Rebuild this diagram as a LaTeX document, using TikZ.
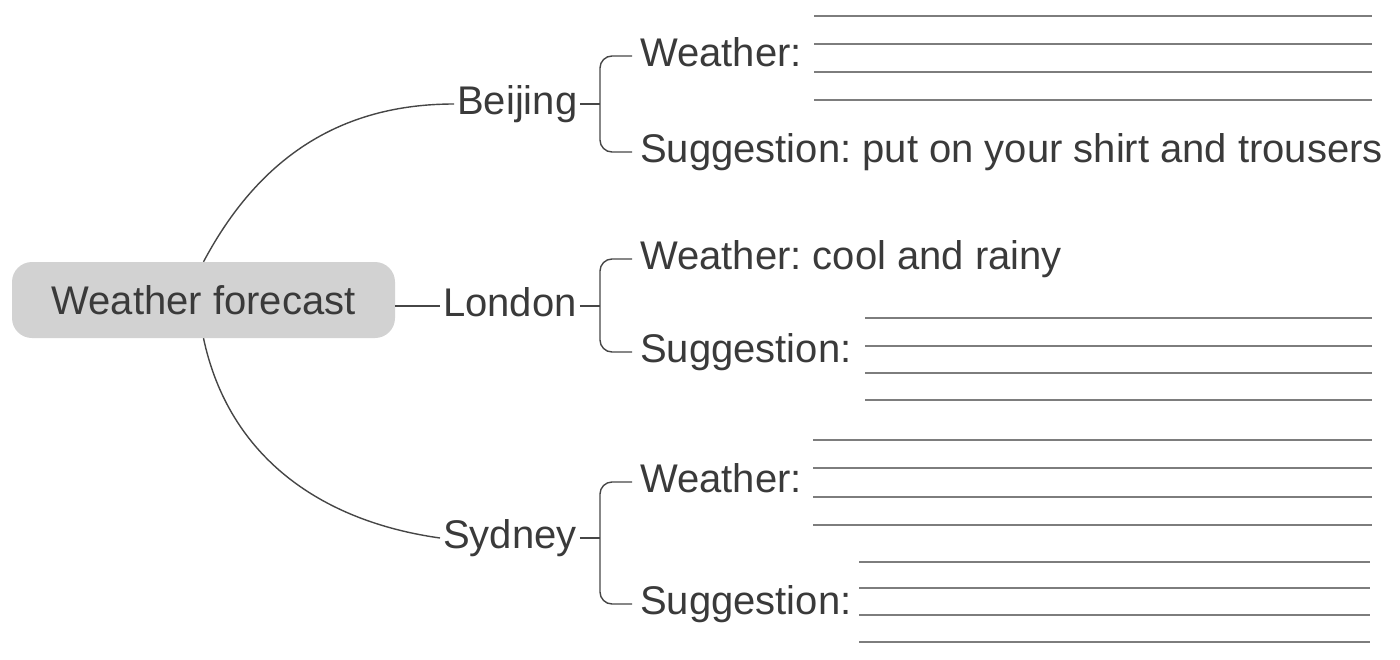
\documentclass[tikz,border=0pt]{standalone}
\usepackage{fontspec}
\setmainfont{Liberation Sans}
\usepackage{xcolor}
\usepackage{tikz}
\usetikzlibrary{positioning, calc}
\definecolor{Tinta}    {RGB}{58, 58, 58}
\definecolor{Rama}     {RGB}{70, 70, 70}
\definecolor{Renglon}  {RGB}{125,125,125}
\definecolor{GrisCaja} {RGB}{210,210,210}
\frenchspacing

\begin{document}
\begin{tikzpicture}[x=1pt,y=1pt,font=\fontsize{40}{48}\selectfont,text=Tinta,
    city/.style={inner sep=3pt,text height=20pt,text depth=0pt,anchor=base west},
    item/.style={inner sep=8pt,text height=20pt,text depth=0pt,anchor=base west},
    link/.style={draw=Rama,line width=1.4pt},
    blank/.style={draw=Renglon,line width=1.1pt}]
      \useasboundingbox (0,0) rectangle (1400,-659);
      \node[fill=GrisCaja,rounded corners=20pt,minimum width=383pt,minimum height=76pt,inner sep=0pt] (fc) at (203.5,-300) {Weather forecast};
      \node[city] (bj) at (454,-114) {Beijing};
      \node[city] (lon) at (440,-316) {London};
      \node[city] (syd) at (440,-548) {Sydney};
      \coordinate (spine) at (600,0);
      % Beijing
      \node[item] (bjw) at (632,-66) {Weather:};
      \node[item] (bjs) at (632,-162) {Suggestion: put on your shirt and trousers};
      % London
      \node[item] (lonw) at (632,-269) {Weather: cool and rainy};
      \node[item] (lons) at (632,-362) {Suggestion:};
      % Sydney
      \node[item] (sydw) at (632,-492) {Weather:};
      \node[item] (syds) at (632,-614) {Suggestion:};
      \draw[link] (fc.north) to[out=62,in=180] (bj.west);
      \draw[link] (fc.east |- lon.west) -- (lon.west);
      \draw[link] (fc.south) to[out=-78,in=172] (syd.west);
      \draw[link] (bj.east) -- (bj.east -| spine);
      \draw[link] (lon.east) -- (lon.east -| spine);
      \draw[link] (syd.east) -- (syd.east -| spine);
      \draw[link,rounded corners=12pt] (bjw.west) -| (bj.east -| spine) |- (bjs.west);
      \draw[link,rounded corners=12pt] (lonw.west) -| (lon.east -| spine) |- (lons.west);
      \draw[link,rounded corners=12pt] (sydw.west) -| (syd.east -| spine) |- (syds.west);
      % lines to fill in
      \foreach \y in {16,44,72,100} \draw[blank] (814,-\y) -- (1372,-\y);
      \foreach \y in {318,346,373,400} \draw[blank] (865,-\y) -- (1372,-\y);
      \foreach \y in {440,468,497,525} \draw[blank] (813,-\y) -- (1372,-\y);
      \foreach \y in {562,588,615,642} \draw[blank] (859,-\y) -- (1370,-\y);
    \end{tikzpicture}
\end{document}
